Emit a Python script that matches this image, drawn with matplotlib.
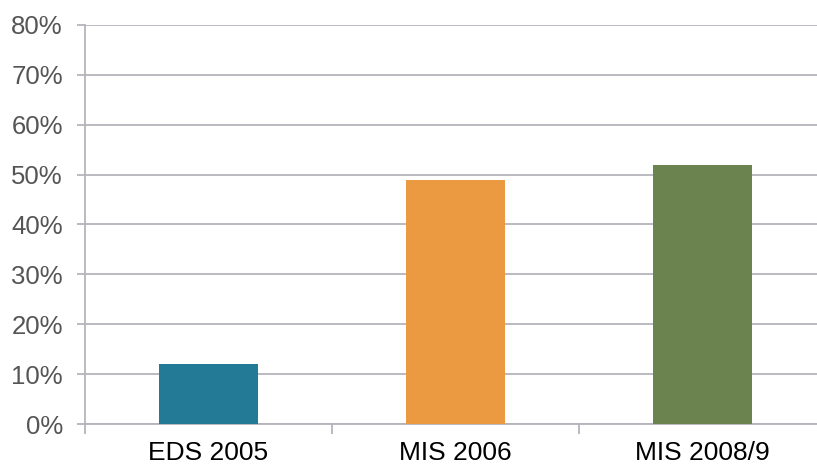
import matplotlib.pyplot as plt
from matplotlib.ticker import PercentFormatter

# data
labels = ["EDS 2005", "MIS 2006", "MIS 2008/9"]
values = [12, 49, 52]
colors = ["#237a96", "#eb9a42", "#6b834f"]

plt.rcParams['font.family'] = ['Liberation Sans', 'DejaVu Sans']

fig = plt.figure(figsize=(8.17, 4.66), dpi=100)
# axes run a little past the right edge, like the original
ax = fig.add_axes([85 / 817, 42 / 466, 741 / 817, 399 / 466])

x = list(range(len(labels)))
ax.bar(x, values, width=0.4, color=colors, zorder=3)

ax.set_xlim(-0.5, len(labels) - 0.5)
ax.set_ylim(0, 80)
ax.set_yticks(range(0, 81, 10))
ax.yaxis.set_major_formatter(PercentFormatter(decimals=0))
ax.grid(axis="y", color="#b4b4bc", linewidth=1.3, zorder=0)

ax.set_xticks([i + 0.5 for i in x[:-1]] + [-0.5], minor=False)
ax.set_xticklabels([])
ax.set_xticks(x, minor=True)
ax.set_xticklabels(labels, minor=True)
ax.tick_params(axis="x", which="major", length=7, color="#b4b4bc", width=1.3)
ax.tick_params(axis="x", which="minor", length=0, labelsize=19, labelcolor="black", pad=12)
ax.tick_params(axis="y", length=6, color="#b4b4bc", width=1.3, labelsize=18.5, labelcolor="#555555", pad=10)

for s in ["top", "right"]:
    ax.spines[s].set_visible(False)
for s in ["left", "bottom"]:
    ax.spines[s].set_color("#b4b4bc")
    ax.spines[s].set_linewidth(1.3)

fig.savefig("out.png", dpi=100)
